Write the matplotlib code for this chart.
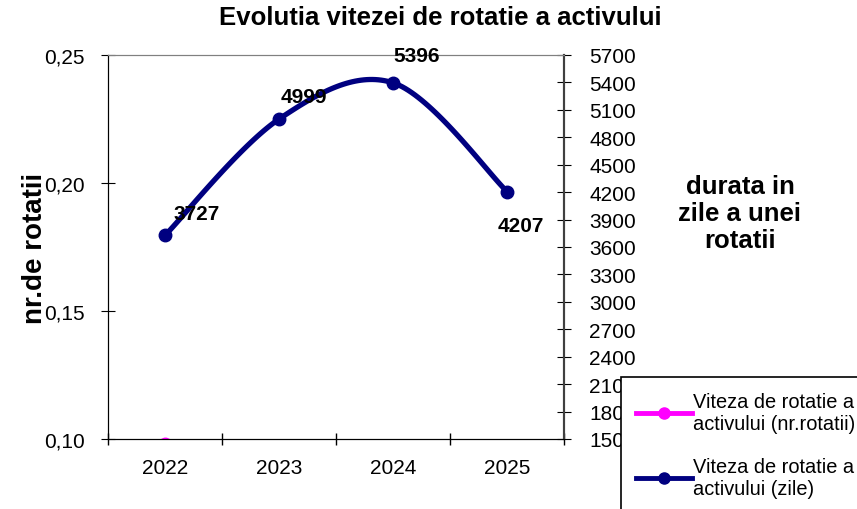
import numpy as np
import matplotlib.pyplot as plt
from matplotlib.lines import Line2D

# === Data ===
years = ["2022", "2023", "2024", "2025"]
rotatii = [0.098, 0.073, 0.068, 0.087]      # nr. rotatii (mostly below the axis)
zile = [3727, 4999, 5396, 4207]              # durata in zile a unei rotatii
label_offsets = [(32, 22), (25, 23), (24, 27), (14, -34)]   # px offsets for data labels

NAVY = "#000080"
PINK = "#FF00FF"


def smooth(xs, ys, n=40):
    # Excel-like smoothed line: cubic bezier segments through the points
    xs = np.asarray(xs, float)
    ys = np.asarray(ys, float)
    px = np.concatenate([[xs[0]], xs, [xs[-1]]])
    py = np.concatenate([[ys[0]], ys, [ys[-1]]])
    out_x, out_y = [], []
    t = np.linspace(0, 1, n)
    for i in range(1, len(xs)):
        p0 = np.array([px[i], py[i]])
        p3 = np.array([px[i + 1], py[i + 1]])
        c1 = p0 + (np.array([px[i + 1], py[i + 1]]) - np.array([px[i - 1], py[i - 1]])) / 6
        c2 = p3 - (np.array([px[i + 2], py[i + 2]]) - np.array([px[i], py[i]])) / 6
        b = ((1 - t) ** 3)[:, None] * p0 + (3 * (1 - t) ** 2 * t)[:, None] * c1 \
            + (3 * (1 - t) * t ** 2)[:, None] * c2 + (t ** 3)[:, None] * p3
        out_x.extend(b[:, 0])
        out_y.extend(b[:, 1])
    return out_x, out_y


plt.rcParams["font.family"] = ["Liberation Sans", "DejaVu Sans"]

fig = plt.figure(figsize=(8.57, 5.10), dpi=100)
ax = fig.add_axes([108 / 857, 1 - 440 / 510, (564 - 108) / 857, (440 - 56) / 510])
ax2 = ax.twinx()

x = np.arange(len(years))

# left series (nr. rotatii)
ax.plot(x, rotatii, color=PINK, lw=3.5, marker="o", ms=9, zorder=3)
ax.set_xlim(-0.5, len(years) - 0.5)
ax.set_ylim(0.10, 0.25)
ax.set_yticks([0.10, 0.15, 0.20, 0.25])
ax.set_yticklabels(["0,10", "0,15", "0,20", "0,25"])
ax.set_xticks(x)
ax.set_xticklabels(years)
ax.set_xticks(np.arange(-0.5, len(years)), minor=True)
ax.tick_params(axis="x", which="major", length=0, labelsize=15, pad=14)
ax.tick_params(axis="x", which="minor", length=8, direction="inout", width=1)
ax.tick_params(axis="y", length=10, direction="inout", labelsize=15, pad=12)
ax.set_ylabel("nr.de rotatii", fontsize=20, fontweight="bold", labelpad=-3)

# right series (zile)
sx, sy = smooth(x, zile)
ax2.plot(sx, sy, color=NAVY, lw=3.8, solid_capstyle="round", zorder=3)
ax2.plot(x, zile, color=NAVY, lw=0, marker="o", ms=9, zorder=4)
ax2.set_ylim(1500, 5700)
ax2.set_yticks(np.arange(1500, 5701, 300))
ax2.tick_params(axis="y", length=10, direction="inout", labelsize=15, pad=13)

for xi, v, (dx, dy) in zip(x, zile, label_offsets):
    ax2.annotate(str(v), (xi, v), xytext=(dx * 0.72, dy * 0.72), textcoords="offset points",
                 ha="center", va="center", fontsize=15, fontweight="bold", zorder=5)

for a in (ax, ax2):
    a.spines["top"].set_color("#808080")
    a.spines["left"].set_color("black")
    a.spines["bottom"].set_color("black")
    a.spines["right"].set_color("#404040")
    a.spines["right"].set_linewidth(1.5)

fig.text(440 / 857, 1 - 18 / 510, "Evolutia vitezei de rotatie a activului",
         ha="center", va="center", fontsize=18.5, fontweight="bold")
fig.text(740 / 857, 1 - 214 / 510, "durata in\nzile a unei\nrotatii",
         ha="center", va="center", fontsize=18.5, fontweight="bold", linespacing=1.15)

# legend (opaque, covers the lowest right-axis labels like in the original)
handles = [
    Line2D([], [], color=PINK, lw=3.5, marker="o", ms=8),
    Line2D([], [], color=NAVY, lw=3.5, marker="o", ms=8),
]
labels = ["Viteza de rotatie a\nactivului (nr.rotatii)", "Viteza de rotatie a\nactivului (zile)"]
leg = fig.legend(handles, labels, loc="upper left", bbox_to_anchor=(621 / 857, 1 - 378 / 510),
                 fontsize=14.4, frameon=True, fancybox=False, edgecolor="black",
                 facecolor="white", framealpha=1.0,
                 handlelength=2.8, handletextpad=0.05, labelspacing=1.2,
                 borderpad=0.75, borderaxespad=0)
leg.get_frame().set_linewidth(1.2)
leg.set_zorder(10)

fig.savefig("out.png", dpi=100)
